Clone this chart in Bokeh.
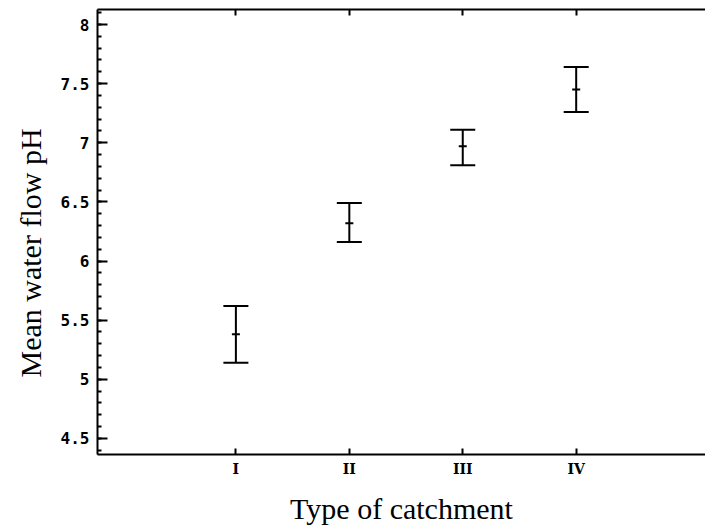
from bokeh.plotting import figure
from bokeh.models import Range1d, FixedTicker, LinearAxis, Whisker, ColumnDataSource, TeeHead, Title
from bokeh.embed import file_html
from bokeh.resources import INLINE
import numpy as np

# Data
categories = ["I", "II", "III", "IV"]
cat_pos = [1, 2, 3, 4]
mean_ph = [5.38, 6.32, 6.97, 7.45]
lower_ph = [5.14, 6.16, 6.81, 7.26]
upper_ph = [5.62, 6.49, 7.11, 7.64]
y_ticks = [4.5, 5, 5.5, 6, 6.5, 7, 7.5, 8]
y_tick_labels = ["4.5", "5", "5.5", "6", "6.5", "7", "7.5", "8"]
y_title = "Mean water flow pH"
x_title = "Type of catchment"

src = ColumnDataSource(dict(x=cat_pos, y=mean_ph, lo=lower_ph, hi=upper_ph))

p = figure(width=705, height=530, output_backend="svg", toolbar_location=None,
           x_range=Range1d(-0.22, 5.14), y_range=Range1d(4.364, 8.127))
p.min_border_left = 96
p.min_border_right = 0
p.min_border_top = 9
p.min_border_bottom = 76
p.outline_line_color = None
p.grid.visible = False
p.background_fill_color = "white"
p.border_fill_color = "white"

minor = [round(v, 2) for v in np.arange(4.4, 8.11, 0.1)]

# Y axis
ya = p.yaxis[0]
ya.ticker = FixedTicker(ticks=y_ticks, minor_ticks=minor)
ya.major_label_overrides = {t: l for t, l in zip(y_ticks, y_tick_labels)}
ya.major_tick_in = 10
ya.major_tick_out = 0
ya.minor_tick_in = 4
ya.minor_tick_out = 0
ya.major_tick_line_width = 2
ya.minor_tick_line_width = 2
ya.axis_line_width = 2
ya.major_label_standoff = 8
ya.major_label_text_font = "DejaVu Sans Mono"
ya.major_label_text_font_style = "bold"
ya.major_label_text_font_size = "16px"
ya.major_label_text_color = "black"

# Y title as a side title, shifted to sit a little below the frame centre
yt = Title(text=y_title, align="left", offset=77, standoff=22,
           text_font="Liberation Serif", text_font_style="normal",
           text_font_size="30px", text_color="black")
p.add_layout(yt, "left")

# X axis
xa = p.xaxis[0]
xa.ticker = FixedTicker(ticks=cat_pos, minor_ticks=[])
xa.major_label_overrides = {c: l for c, l in zip(cat_pos, categories)}
xa.major_tick_in = 6
xa.major_tick_out = 0
xa.major_tick_line_width = 2
xa.axis_line_width = 2
xa.major_label_standoff = 6
xa.major_label_text_font = "DejaVu Serif"
xa.major_label_text_font_style = "bold"
xa.major_label_text_font_size = "14px"
xa.major_label_text_color = "black"
xa.axis_label = x_title
xa.axis_label_text_font = "Liberation Serif"
xa.axis_label_text_font_style = "normal"
xa.axis_label_text_font_size = "30px"
xa.axis_label_text_color = "black"
xa.axis_label_standoff = 12

# Top axis (frame line with inward ticks)
ta = LinearAxis(ticker=FixedTicker(ticks=cat_pos, minor_ticks=[]))
ta.major_label_overrides = {c: "" for c in cat_pos}
ta.major_label_standoff = 0
ta.major_tick_in = 6
ta.major_tick_out = 0
ta.major_tick_line_width = 2
ta.axis_line_width = 2
p.add_layout(ta, "above")

# Error bars
w = Whisker(source=src, base="x", lower="lo", upper="hi", line_width=2, line_color="black",
            upper_head=TeeHead(size=25, line_width=2, line_color="black"),
            lower_head=TeeHead(size=25, line_width=2, line_color="black"))
p.add_layout(w)
p.scatter("x", "y", source=src, marker="dash", size=8, line_width=2, line_color="black")

open("out.html", "w").write(file_html(p, INLINE))
